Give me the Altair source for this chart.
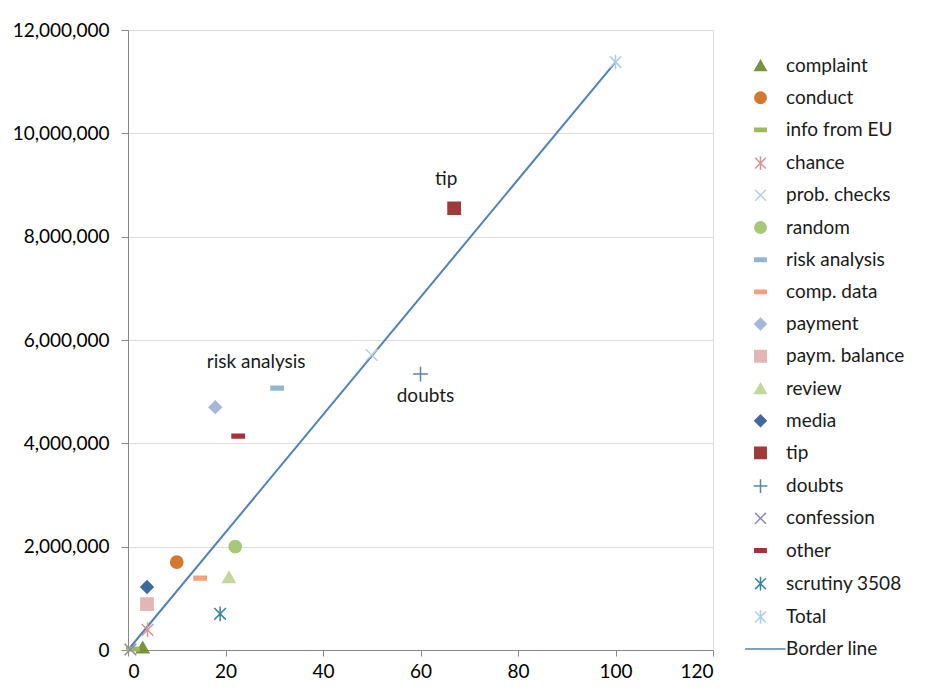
import altair as alt
import pandas as pd

series = ["complaint", "conduct", "info from EU", "chance", "prob. checks", "random",
          "risk analysis", "comp. data", "payment", "paym. balance", "review", "media",
          "tip", "doubts", "confession", "other", "scrutiny 3508", "Total"]
x_vals = [3, 10, 1, 4, 50, 22, 30.6, 14.8, 17.9, 3.9, 20.7, 3.9, 66.9, 60, 0.5, 22.6, 18.9, 100]
y_vals = [50000, 1700000, 20000, 390000, 5710000, 2000000, 5070000, 1390000, 4700000, 890000,
          1410000, 1220000, 8550000, 5340000, 10000, 4140000, 700000, 11380000]

border_x = [0, 100]
border_y = [0, 11380000]

legend_order = series + ["Border line"]

TRI = "triangle-up"
CIRC = "circle"
DASH = "M-1,-0.3H1V0.3H-1Z"
STAR = "M0,-1.2V1.2M-0.95,-0.95L0.95,0.95M-0.95,0.95L0.95,-0.95"
XMK = "M-0.95,-0.95L0.95,0.95M-0.95,0.95L0.95,-0.95"
PLUS = "M-1.2,0H1.2M0,-1.2V1.2"
DIAM = "diamond"
SQ = "square"
LINE = "M-2.7,0H4.4"

shapes = [TRI, CIRC, DASH, STAR, XMK, CIRC, DASH, DASH, DIAM, SQ, TRI, DIAM, SQ, PLUS, XMK, DASH, STAR, STAR, LINE]
colors = ["#77933C", "#D4782F", "#9BBB59", "#D99694", "#B9CDE5", "#A8C878", "#93B6D0", "#F6A07A",
          "#A6B8D9", "#E4B5B5", "#C3D69B", "#3E6AA0", "#A03A3A", "#5B84A8", "#8E86AE", "#A5303A",
          "#31859C", "#A8CEE8", "#4F81BD"]
stroke_only = {STAR, XMK, PLUS, LINE}
fills = ["transparent" if s in stroke_only else c for s, c in zip(shapes, colors)]

df = pd.DataFrame({"series": series, "x": x_vals, "y": y_vals})
line_df = pd.DataFrame({"x": border_x, "y": border_y})

FONT = "Lato"

xscale = alt.Scale(domain=[0, 120], nice=False)
yscale = alt.Scale(domain=[0, 12000000], nice=False)

xaxis = alt.Axis(values=list(range(0, 121, 20)), grid=False, tickSize=6, labelPadding=6,
                 title=None, labelFontSize=19, labelFont=FONT)
yaxis = alt.Axis(values=list(range(0, 12000001, 2000000)), format=",.0f", grid=True, tickSize=7,
                 labelPadding=12, title=None, labelFontSize=19, labelFont=FONT)

X = alt.X("x:Q", scale=xscale, axis=xaxis)
Y = alt.Y("y:Q", scale=yscale, axis=yaxis)

line = alt.Chart(line_df).mark_line(color="#4F81BD", strokeWidth=2).encode(x=X, y=Y)

legend = alt.Legend(title=None, orient="none", legendX=623, legendY=26, labelFontSize=19,
                    labelFont=FONT, symbolSize=130, symbolStrokeWidth=1.5, rowPadding=12.2,
                    labelOffset=16, labelColor="#1a1a1a")

points = alt.Chart(df).mark_point(size=150, opacity=1, strokeWidth=1.5).encode(
    x=X,
    y=Y,
    shape=alt.Shape("series:N", scale=alt.Scale(domain=legend_order, range=shapes), legend=legend),
    fill=alt.Fill("series:N", scale=alt.Scale(domain=legend_order, range=fills), legend=legend),
    stroke=alt.Stroke("series:N", scale=alt.Scale(domain=legend_order, range=colors), legend=legend),
)

def label(name, text, dx, dy):
    return alt.Chart(df).transform_filter(alt.datum.series == name).mark_text(
        dx=dx, dy=dy, fontSize=19, font=FONT, color="#1a1a1a"
    ).encode(x=X, y=Y, text=alt.value(text))

labels = label("tip", "tip", -8, -29) + label("risk analysis", "risk analysis", -21, -26) + \
    label("doubts", "doubts", 5, 22)

chart = alt.layer(line, points, labels).properties(
    width=585, height=620,
    autosize=alt.AutoSizeParams(type="none"),
    padding={"left": 120, "top": 22, "right": 200, "bottom": 40},
).configure_view(stroke=None).configure_axis(
    domainColor="#868686", tickColor="#868686", gridColor="#868686", labelFont=FONT,
    labelColor="#1a1a1a", domainWidth=1, gridWidth=1,
).configure(background="white")

chart.save("out.html", embed_options={"renderer": "svg", "actions": False})
